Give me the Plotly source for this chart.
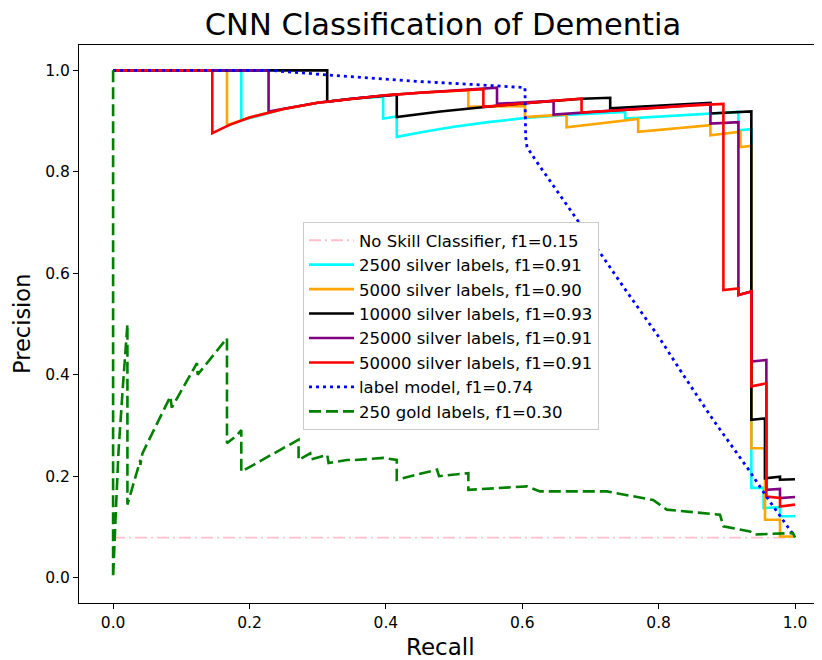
import plotly.graph_objects as go

# ---------------- data ----------------
noskill_r = [0.0, 1.0]
noskill_p = [0.079, 0.079]

s2500_r = [0.0, 0.188, 0.188, 0.25, 0.30, 0.35, 0.396, 0.396, 0.416, 0.416, 0.46, 0.50, 0.55, 0.604,
           0.665, 0.751, 0.751, 0.82, 0.917, 0.917, 0.936, 0.936, 0.954, 0.954, 0.978, 0.978, 1.0]
s2500_p = [1.0, 1.0, 0.901, 0.924, 0.936, 0.944, 0.948, 0.905, 0.909, 0.869, 0.880, 0.889, 0.898, 0.906,
           0.912, 0.918, 0.905, 0.911, 0.918, 0.882, 0.884, 0.177, 0.177, 0.137, 0.139, 0.121, 0.121]

s5000_r = [0.0, 0.167, 0.167, 0.20, 0.25, 0.30, 0.35, 0.40, 0.45, 0.50, 0.521, 0.521, 0.56, 0.604,
           0.604, 0.643, 0.665, 0.665, 0.770, 0.770, 0.876, 0.876, 0.920, 0.920, 0.936, 0.936, 0.956,
           0.956, 0.978, 0.978, 1.0]
s5000_p = [1.0, 1.0, 0.892, 0.907, 0.924, 0.936, 0.944, 0.951, 0.956, 0.960, 0.961, 0.928, 0.929, 0.930,
           0.908, 0.911, 0.913, 0.888, 0.904, 0.879, 0.892, 0.872, 0.879, 0.849, 0.851, 0.255, 0.255,
           0.114, 0.114, 0.081, 0.081]

s10000_r = [0.0, 0.314, 0.314, 0.35, 0.416, 0.416, 0.48, 0.543, 0.60, 0.687, 0.729, 0.729, 0.80,
            0.876, 0.876, 0.936, 0.936, 0.956, 0.956, 0.978, 0.978, 1.0]
s10000_p = [1.0, 1.0, 0.938, 0.944, 0.952, 0.908, 0.919, 0.928, 0.935, 0.944, 0.946, 0.925, 0.930,
            0.936, 0.915, 0.919, 0.311, 0.314, 0.196, 0.199, 0.193, 0.194]

s25000_r = [0.0, 0.228, 0.228, 0.25, 0.30, 0.35, 0.40, 0.45, 0.50, 0.543, 0.563, 0.563, 0.60, 0.646,
            0.646, 0.687, 0.75, 0.80, 0.876, 0.876, 0.917, 0.917, 0.936, 0.936, 0.958, 0.958, 0.978,
            0.978, 1.0]
s25000_p = [1.0, 1.0, 0.919, 0.924, 0.936, 0.944, 0.951, 0.956, 0.960, 0.963, 0.966, 0.934, 0.937, 0.940,
            0.913, 0.917, 0.922, 0.927, 0.934, 0.895, 0.898, 0.557, 0.564, 0.426, 0.429, 0.173, 0.175,
            0.157, 0.159]

s50000_r = [0.0, 0.1455, 0.1455, 0.17, 0.20, 0.25, 0.30, 0.35, 0.40, 0.45, 0.50, 0.543, 0.543, 0.60,
            0.656, 0.687, 0.687, 0.75, 0.80, 0.85, 0.895, 0.895, 0.917, 0.917, 0.936, 0.936, 0.958,
            0.958, 0.978, 0.978, 1.0]
s50000_p = [1.0, 1.0, 0.876, 0.892, 0.907, 0.924, 0.936, 0.944, 0.951, 0.956, 0.960, 0.963, 0.928, 0.935,
            0.941, 0.944, 0.917, 0.922, 0.927, 0.931, 0.934, 0.567, 0.570, 0.557, 0.564, 0.377, 0.383,
            0.160, 0.157, 0.140, 0.144]

label_r = [0.0, 0.23, 0.314, 0.362, 0.45, 0.53, 0.604, 0.605, 0.607, 0.621, 0.65, 0.70, 0.75, 0.80,
           0.836, 0.88, 0.932, 0.961, 1.0]
label_p = [1.0, 1.0, 0.991, 0.986, 0.978, 0.972, 0.966, 0.869, 0.849, 0.820, 0.765, 0.668, 0.570, 0.475,
           0.400, 0.311, 0.213, 0.154, 0.080]

gold_r = [0.0, 0.0, 0.004, 0.008, 0.014, 0.021, 0.021, 0.040, 0.040, 0.043, 0.084, 0.086, 0.123, 0.124,
          0.167, 0.167, 0.182, 0.188, 0.188, 0.272, 0.272, 0.289, 0.290, 0.314, 0.316, 0.343, 0.355,
          0.397, 0.416, 0.416, 0.475, 0.478, 0.521, 0.521, 0.607, 0.626, 0.724, 0.753, 0.792, 0.812,
          0.890, 0.895, 0.934, 0.941, 0.997, 1.0]
gold_p = [1.0, 0.0, 0.13, 0.25, 0.37, 0.50, 0.144, 0.232, 0.222, 0.245, 0.357, 0.335, 0.423, 0.400,
          0.472, 0.265, 0.281, 0.291, 0.209, 0.272, 0.232, 0.245, 0.233, 0.242, 0.226, 0.232, 0.232,
          0.236, 0.232, 0.193, 0.213, 0.200, 0.206, 0.173, 0.180, 0.170, 0.170, 0.163, 0.153, 0.134,
          0.124, 0.101, 0.091, 0.085, 0.088, 0.079]

x_ticks = [0.0, 0.2, 0.4, 0.6, 0.8, 1.0]
y_ticks = [0.0, 0.2, 0.4, 0.6, 0.8, 1.0]

series = [
    ("No Skill Classifier, f1=0.15", noskill_r, noskill_p, "#ffc0cb", 1.8, "12px,4px,2px,4px"),
    ("2500 silver labels, f1=0.91", s2500_r, s2500_p, "#00ffff", 2.6, "solid"),
    ("5000 silver labels, f1=0.90", s5000_r, s5000_p, "#ffa500", 2.6, "solid"),
    ("10000 silver labels, f1=0.93", s10000_r, s10000_p, "#000000", 2.6, "solid"),
    ("25000 silver labels, f1=0.91", s25000_r, s25000_p, "#800080", 2.6, "solid"),
    ("50000 silver labels, f1=0.91", s50000_r, s50000_p, "#ff0000", 2.6, "solid"),
    ("label model, f1=0.74", label_r, label_p, "#0000ff", 2.8, "3px,4px"),
    ("250 gold labels, f1=0.30", gold_r, gold_p, "#008000", 2.6, "12px,5px"),
]

fig = go.Figure()
for name, r, p, color, w, dash in series:
    fig.add_trace(go.Scatter(x=r, y=p, mode="lines", name=name,
                             line=dict(color=color, width=w, dash=dash)))

# the page body has an 8px margin: figure occupies page px 8..822 x 8..660
OFF = 8
W, H = 822 - OFF, 660 - OFF
L, T, R_, B = 79 - OFF, 45 - OFF, 0, H - (603 - OFF)
PW, PH = W - L - R_, H - T - B


def px_x(px):
    return (px - OFF - L) / PW


def px_y(py):
    return (H - B - (py - OFF)) / PH


font = "DejaVu Sans"
fig.update_layout(
    width=W, height=H,
    margin=dict(l=L, r=R_, t=T, b=B, pad=0),
    paper_bgcolor="white", plot_bgcolor="white",
    font=dict(family=font, color="black", size=15),
    title=dict(text="CNN Classification of Dementia", x=(443 - OFF) / W, xanchor="center",
               y=1 - (24 - OFF) / H, yanchor="middle", yref="container",
               font=dict(size=30.5, family=font, color="black")),
    legend=dict(x=px_x(303), y=px_y(222), xanchor="left", yanchor="top",
                bgcolor="white", bordercolor="#cccccc", borderwidth=1,
                font=dict(size=16.5, family=font, color="black"), itemwidth=45),
    showlegend=True,
)
fig.update_xaxes(range=[-0.05, 1.0396], tickvals=x_ticks, ticktext=[f"{v:.1f}" for v in x_ticks],
                 showgrid=False, zeroline=False, showline=True, linecolor="black", linewidth=1,
                 mirror=True, ticks="outside", ticklen=5, tickcolor="black",
                 tickfont=dict(size=15.5, family=font))
fig.update_yaxes(range=[-0.05, 1.05], tickvals=y_ticks, ticktext=[f"{v:.1f}" for v in y_ticks],
                 showgrid=False, zeroline=False, showline=True, linecolor="black", linewidth=1,
                 ticks="outside", ticklen=5, tickcolor="black",
                 tickfont=dict(size=15.5, family=font))
fig.add_annotation(text="Recall", xref="paper", yref="paper", x=px_x(440), y=px_y(647),
                   showarrow=False, xanchor="center", yanchor="middle",
                   font=dict(size=23, family=font, color="black"))
fig.add_annotation(text="Precision", xref="paper", yref="paper", x=px_x(22), y=px_y(324),
                   showarrow=False, xanchor="center", yanchor="middle", textangle=-90,
                   font=dict(size=22.5, family=font, color="black"))

fig.write_html("out.html")
